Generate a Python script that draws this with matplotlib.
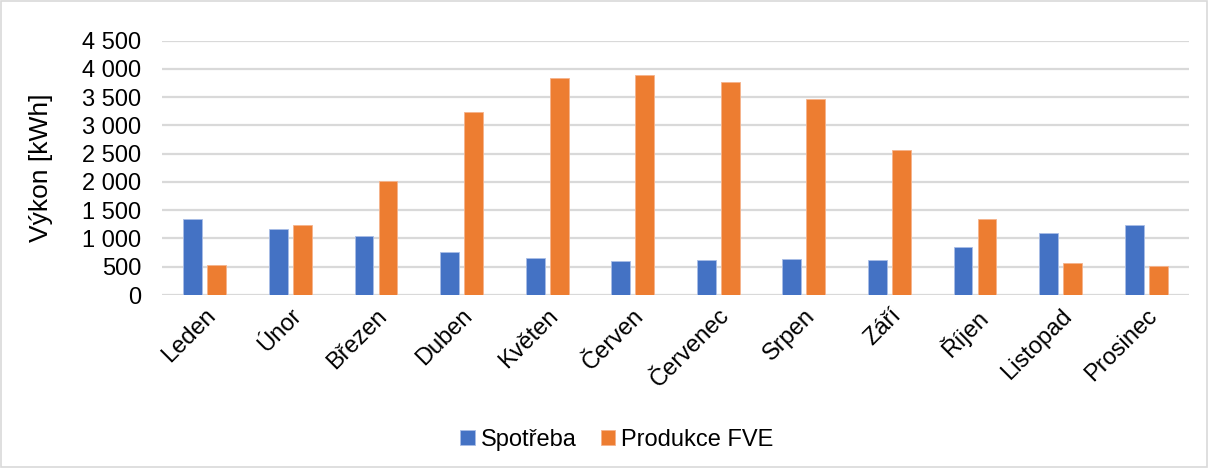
import matplotlib.pyplot as plt
import numpy as np
from matplotlib.ticker import FuncFormatter
from matplotlib.patches import Rectangle

plt.rcParams['font.family'] = ['Liberation Sans', 'DejaVu Sans']

months = ['Leden', 'Únor', 'Březen', 'Duben', 'Květen', 'Červen',
          'Červenec', 'Srpen', 'Září', 'Říjen', 'Listopad', 'Prosinec']
spotreba = [1350, 1168, 1050, 755, 649, 602, 613, 631, 619, 849, 1091, 1233]
produkce = [537, 1244, 2017, 3238, 3839, 3892, 3769, 3468, 2571, 1345, 566, 513]

blue = '#4472C4'
orange = '#ED7D31'

fig = plt.figure(figsize=(12.08, 4.68), dpi=100)
ax = fig.add_axes([162/1208, 1 - 295/468, (1189-162)/1208, (295-40.7)/468])

x = np.arange(len(months))
w = 0.22
ax.bar(x - 0.14, spotreba, w, color=blue, edgecolor='#a9bde6', linewidth=0.6, label='Spotřeba', zorder=3)
ax.bar(x + 0.14, produkce, w, color=orange, edgecolor='#f5b38c', linewidth=0.6, label='Produkce FVE', zorder=3)

ax.set_xlim(-0.5, len(months) - 0.5)
ax.set_ylim(0, 4500)
ax.set_yticks(np.arange(0, 4501, 500))
ax.yaxis.set_major_formatter(FuncFormatter(lambda v, p: '{:,.0f}'.format(v).replace(',', ' ')))
ax.grid(axis='y', color='#d9d9d9', linewidth=1.6, zorder=0)
for s in ax.spines.values():
    s.set_visible(False)
ax.tick_params(axis='both', length=0, labelsize=17, labelcolor='#000000')
ax.tick_params(axis='y', pad=15)
ax.set_xticks(x)
ax.set_xticklabels(months, rotation=45, ha='right', rotation_mode='anchor')
ax.tick_params(axis='x', pad=7)
ax.set_ylabel('Výkon [kWh]', fontsize=19, labelpad=21)

fig.legend(loc='center', bbox_to_anchor=(617/1208, 1 - 440/468), ncol=2, frameon=False,
           fontsize=17, handlelength=0.6, handleheight=0.6, handletextpad=0.25, columnspacing=1.05)

fig.patches.append(Rectangle((1/1208, 1/468), 1206/1208, 466/468, transform=fig.transFigure,
                             fill=False, edgecolor='#d9d9d9', linewidth=1.2))

fig.savefig('out.png', dpi=100)
